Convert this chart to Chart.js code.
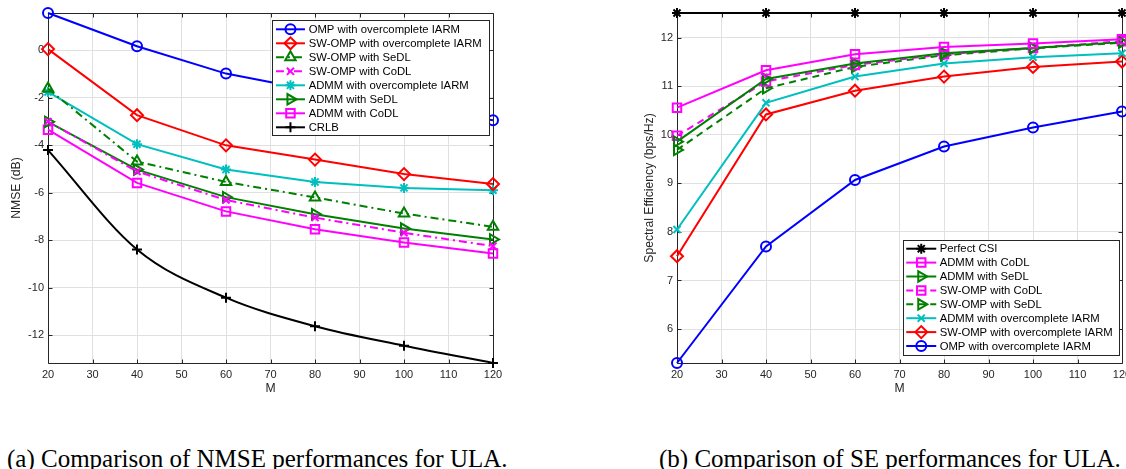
<!DOCTYPE html>
<html><head><meta charset="utf-8">
<script src="https://cdn.jsdelivr.net/npm/chart.js@4.4.1/dist/chart.umd.min.js"></script>
<style>
html,body{margin:0;padding:0;width:1126px;height:469px;overflow:hidden;background:#fff;}
#c1{position:absolute;left:0;top:0;}
#c2{position:absolute;left:600px;top:0;}
.cap{position:absolute;font-family:"Liberation Serif","Times New Roman",serif;font-size:25px;line-height:25px;white-space:nowrap;color:#000;}
</style></head><body>
<canvas id="c1" width="540" height="400"></canvas>
<canvas id="c2" width="560" height="400"></canvas>
<div class="cap" style="left:7px;top:445.6px">(a) Comparison of NMSE performances for ULA.</div>
<div class="cap" style="left:659px;top:445.6px">(b) Comparison of SE performances for ULA.</div>
<script>
// ---------- data ----------
const M = [20, 40, 60, 80, 100, 120];
const xTicks = [20, 30, 40, 50, 60, 70, 80, 90, 100, 110, 120];
const nmseTicks = [-12, -10, -8, -6, -4, -2, 0];
const seTicks = [6, 7, 8, 9, 10, 11, 12];

// NMSE (dB)
const nmseOMP_IARM   = [1.57, 0.17, -0.98, -1.70, -2.38, -2.94];
const nmseSWOMP_IARM = [0.05, -2.73, -4.00, -4.60, -5.21, -5.63];
const nmseSWOMP_SeDL = [-1.61, -4.68, -5.54, -6.19, -6.87, -7.43];
const nmseSWOMP_CoDL = [-3.00, -5.10, -6.30, -7.04, -7.68, -8.24];
const nmseADMM_IARM  = [-1.75, -3.95, -5.02, -5.54, -5.79, -5.89];
const nmseADMM_SeDL  = [-3.01, -5.02, -6.18, -6.90, -7.50, -7.96];
const nmseADMM_CoDL  = [-3.34, -5.58, -6.78, -7.53, -8.09, -8.55];
const nmseCRLB       = [-4.20, -8.38, -10.41, -11.61, -12.43, -13.16];

// Spectral efficiency (bps/Hz)
const sePerfect    = [12.51, 12.51, 12.51, 12.51, 12.51, 12.51];
const seADMM_CoDL  = [10.56, 11.33, 11.66, 11.81, 11.88, 11.97];
const seADMM_SeDL  = [9.86, 11.15, 11.47, 11.68, 11.79, 11.91];
const seSWOMP_CoDL = [9.98, 11.10, 11.44, 11.66, 11.79, 11.93];
const seSWOMP_SeDL = [9.69, 10.96, 11.40, 11.64, 11.78, 11.90];
const seADMM_IARM  = [8.05, 10.66, 11.20, 11.47, 11.60, 11.68];
const seSWOMP_IARM = [7.50, 10.42, 10.91, 11.20, 11.40, 11.51];
const seOMP_IARM   = [5.30, 7.70, 9.07, 9.76, 10.15, 10.48];

// ---------- styles ----------
const FONT = '"Liberation Sans", Arial, Helvetica, sans-serif';
const TXT = '#262626';
const GRID = '#e0e0e0';
const BLUE = '#0000ff', RED = '#ff0000', GREEN = '#008000', MAG = '#ff00ff', CYAN = '#00bfbf', BLACK = '#000000';
const DASHDOT = [8, 4, 2, 4];
const DASH = [7, 5];

function ds(label, ys, st) {
  return {
    label,
    data: M.map((m, i) => ({x: m, y: ys[i]})),
    borderColor: st.color,
    backgroundColor: st.color,
    borderWidth: st.lw || 2,
    borderDash: st.dash || [],
    pointStyle: st.marker,
    pointRadius: st.r,
    pointHoverRadius: st.r,
    pointBorderWidth: st.pbw || 2,
    pointBorderColor: st.color,
    pointBackgroundColor: st.fill ? st.color : 'rgba(0,0,0,0)',
    pointRotation: st.rot || 0,
    tension: st.mono ? 0.4 : 0,
    cubicInterpolationMode: st.mono ? 'monotone' : 'default',
    clip: false,
    fill: false
  };
}

function makeScales(yMin, yMax, yTickVals, yTitle, yTitlePad, yWidth) {
  return {
    x: {
      type: 'linear', min: 20, max: 120,
      afterBuildTicks: s => { s.ticks = xTicks.map(v => ({value: v})); },
      afterFit: s => { s.height = 37; s.paddingLeft = 0; s.paddingRight = 0; },
      grid: {color: GRID, lineWidth: 1, drawTicks: false},
      border: {display: false},
      ticks: {color: TXT, font: {family: FONT, size: 11}, padding: 5, maxRotation: 0, autoSkip: false},
      title: {display: true, text: 'M', color: TXT, font: {family: FONT, size: 12.2}, padding: {top: 0, bottom: 3.7}}
    },
    y: {
      type: 'linear', min: yMin, max: yMax,
      afterBuildTicks: s => { s.ticks = yTickVals.map(v => ({value: v})); },
      afterFit: s => { s.width = yWidth; s.paddingTop = 0; s.paddingBottom = 0; },
      grid: {color: GRID, lineWidth: 1, drawTicks: false},
      border: {display: false},
      ticks: {color: TXT, font: {family: FONT, size: 11}, padding: 4, autoSkip: false},
      title: {display: true, text: yTitle, color: TXT, font: {family: FONT, size: 12.2}, padding: {top: yTitlePad, bottom: 0}}
    }
  };
}

// MATLAB-like box with inward ticks
const boxPlugin = {
  id: 'mbox',
  beforeDatasetsDraw(chart) {
    const {ctx, chartArea: a, scales: {x, y}} = chart;
    const r = v => Math.round(v) + 0.5;
    ctx.save();
    ctx.strokeStyle = '#262626';
    ctx.lineWidth = 1;
    ctx.setLineDash([]);
    ctx.beginPath();
    ctx.rect(r(a.left), r(a.top), Math.round(a.right) - Math.round(a.left), Math.round(a.bottom) - Math.round(a.top));
    const tl = 4;
    x.ticks.forEach(t => {
      const px = r(x.getPixelForValue(t.value));
      ctx.moveTo(px, r(a.bottom)); ctx.lineTo(px, r(a.bottom) - tl);
      ctx.moveTo(px, r(a.top)); ctx.lineTo(px, r(a.top) + tl);
    });
    y.ticks.forEach(t => {
      const py = r(y.getPixelForValue(t.value));
      ctx.moveTo(r(a.left), py); ctx.lineTo(r(a.left) + tl, py);
      ctx.moveTo(r(a.right), py); ctx.lineTo(r(a.right) - tl, py);
    });
    ctx.stroke();
    ctx.restore();
  }
};

function drawMarker(ctx, d, x, y) {
  const opts = {pointStyle: d.pointStyle, rotation: d.pointRotation || 0, radius: d.pointRadius, borderWidth: d.pointBorderWidth};
  ctx.strokeStyle = d.pointBorderColor;
  ctx.fillStyle = d.pointBackgroundColor;
  ctx.lineWidth = d.pointBorderWidth;
  ctx.setLineDash([]);
  if (Chart.helpers && Chart.helpers.drawPoint) {
    Chart.helpers.drawPoint(ctx, opts, x, y);
  }
}

// boxed legend like MATLAB
const legendPlugin = {
  id: 'boxLegend',
  afterDraw(chart, args, o) {
    if (!o || !o.order) return;
    const {ctx, chartArea: a} = chart;
    const items = o.order.map(i => chart.data.datasets[i]);
    ctx.save();
    ctx.font = o.fontSize + 'px ' + FONT;
    const maxW = Math.max(...items.map(d => ctx.measureText(d.label).width));
    const w = o.padL + o.sample + o.gap + maxW + o.padR;
    const h = o.padT + o.rowH * (items.length - 1) + o.padB;
    const right = a.right - o.offR;
    const left = right - w;
    const top = o.anchor === 'top' ? a.top + o.offV : a.bottom - o.offV - h;
    ctx.fillStyle = '#ffffff';
    ctx.fillRect(Math.round(left), Math.round(top), Math.round(w), Math.round(h));
    ctx.strokeStyle = '#262626';
    ctx.lineWidth = 1;
    ctx.setLineDash([]);
    ctx.strokeRect(Math.round(left) + 0.5, Math.round(top) + 0.5, Math.round(w), Math.round(h));
    items.forEach((d, i) => {
      const yy = top + o.padT + i * o.rowH;
      const x0 = left + o.padL, x1 = x0 + o.sample;
      ctx.strokeStyle = d.borderColor;
      ctx.lineWidth = d.borderWidth;
      ctx.setLineDash(d.borderDash || []);
      ctx.beginPath();
      ctx.moveTo(x0, yy); ctx.lineTo(x1, yy);
      ctx.stroke();
      drawMarker(ctx, d, (x0 + x1) / 2, yy);
      ctx.fillStyle = '#000000';
      ctx.textBaseline = 'middle';
      ctx.textAlign = 'left';
      ctx.fillText(d.label, x1 + o.gap, yy + 0.5);
    });
    ctx.restore();
  }
};

// ---------- chart (a) NMSE ----------
const nmseDatasets = [
  ds('OMP with overcomplete IARM', nmseOMP_IARM, {color: BLUE, marker: 'circle', r: 5}),
  ds('SW-OMP with overcomplete IARM', nmseSWOMP_IARM, {color: RED, marker: 'rectRot', r: 6}),
  ds('SW-OMP with SeDL', nmseSWOMP_SeDL, {color: GREEN, marker: 'triangle', r: 6, dash: DASHDOT}),
  ds('SW-OMP with CoDL', nmseSWOMP_CoDL, {color: MAG, marker: 'crossRot', r: 5, dash: DASHDOT}),
  ds('ADMM with overcomplete IARM', nmseADMM_IARM, {color: CYAN, marker: 'star', r: 5}),
  ds('ADMM with SeDL', nmseADMM_SeDL, {color: GREEN, marker: 'triangle', r: 6, rot: 90}),
  ds('ADMM with CoDL', nmseADMM_CoDL, {color: MAG, marker: 'rect', r: 6}),
  ds('CRLB', nmseCRLB, {color: BLACK, marker: 'cross', r: 5, mono: true})
];

new Chart(document.getElementById('c1'), {
  type: 'line',
  data: {datasets: nmseDatasets},
  options: {
    responsive: false, animation: false, devicePixelRatio: 1,
    layout: {padding: {left: 0, top: 13, right: 47, bottom: 0}},
    scales: makeScales(-13.16, 1.57, nmseTicks, 'NMSE (dB)', 9.4, 48),
    plugins: {
      legend: {display: false}, tooltip: {enabled: false},
      boxLegend: {order: [0, 1, 2, 3, 4, 5, 6, 7], anchor: 'top', offR: 4, offV: 7,
        fontSize: 11.3, padL: 4, sample: 29, gap: 3.7, padR: 7.3, padT: 9.3, rowH: 14, padB: 8}
    }
  },
  plugins: [boxPlugin, legendPlugin]
});

// ---------- chart (b) SE ----------
const seDatasets = [
  ds('Perfect CSI', sePerfect, {color: BLACK, marker: 'star', r: 5, fill: true}),
  ds('ADMM with CoDL', seADMM_CoDL, {color: MAG, marker: 'rect', r: 6}),
  ds('ADMM with SeDL', seADMM_SeDL, {color: GREEN, marker: 'triangle', r: 6, rot: 90}),
  ds('SW-OMP with CoDL', seSWOMP_CoDL, {color: MAG, marker: 'rect', r: 6, dash: DASH}),
  ds('SW-OMP with SeDL', seSWOMP_SeDL, {color: GREEN, marker: 'triangle', r: 6, rot: 90, dash: DASH}),
  ds('ADMM with overcomplete IARM', seADMM_IARM, {color: CYAN, marker: 'crossRot', r: 5}),
  ds('SW-OMP with overcomplete IARM', seSWOMP_IARM, {color: RED, marker: 'rectRot', r: 6}),
  ds('OMP with overcomplete IARM', seOMP_IARM, {color: BLUE, marker: 'circle', r: 5})
];

new Chart(document.getElementById('c2'), {
  type: 'line',
  data: {datasets: seDatasets},
  options: {
    responsive: false, animation: false, devicePixelRatio: 1,
    layout: {padding: {left: 0, top: 13, right: 38, bottom: 0}},
    scales: makeScales(5.30, 12.51, seTicks, 'Spectral Efficiency (bps/Hz)', 42.7, 77),
    plugins: {
      legend: {display: false}, tooltip: {enabled: false},
      boxLegend: {order: [0, 1, 2, 3, 4, 5, 6, 7], anchor: 'bottom', offR: 3, offV: 8,
        fontSize: 11.3, padL: 3.3, sample: 30, gap: 3.4, padR: 6.3, padT: 9, rowH: 13.9, padB: 9}
    }
  },
  plugins: [boxPlugin, legendPlugin]
});
</script>
</body></html>
